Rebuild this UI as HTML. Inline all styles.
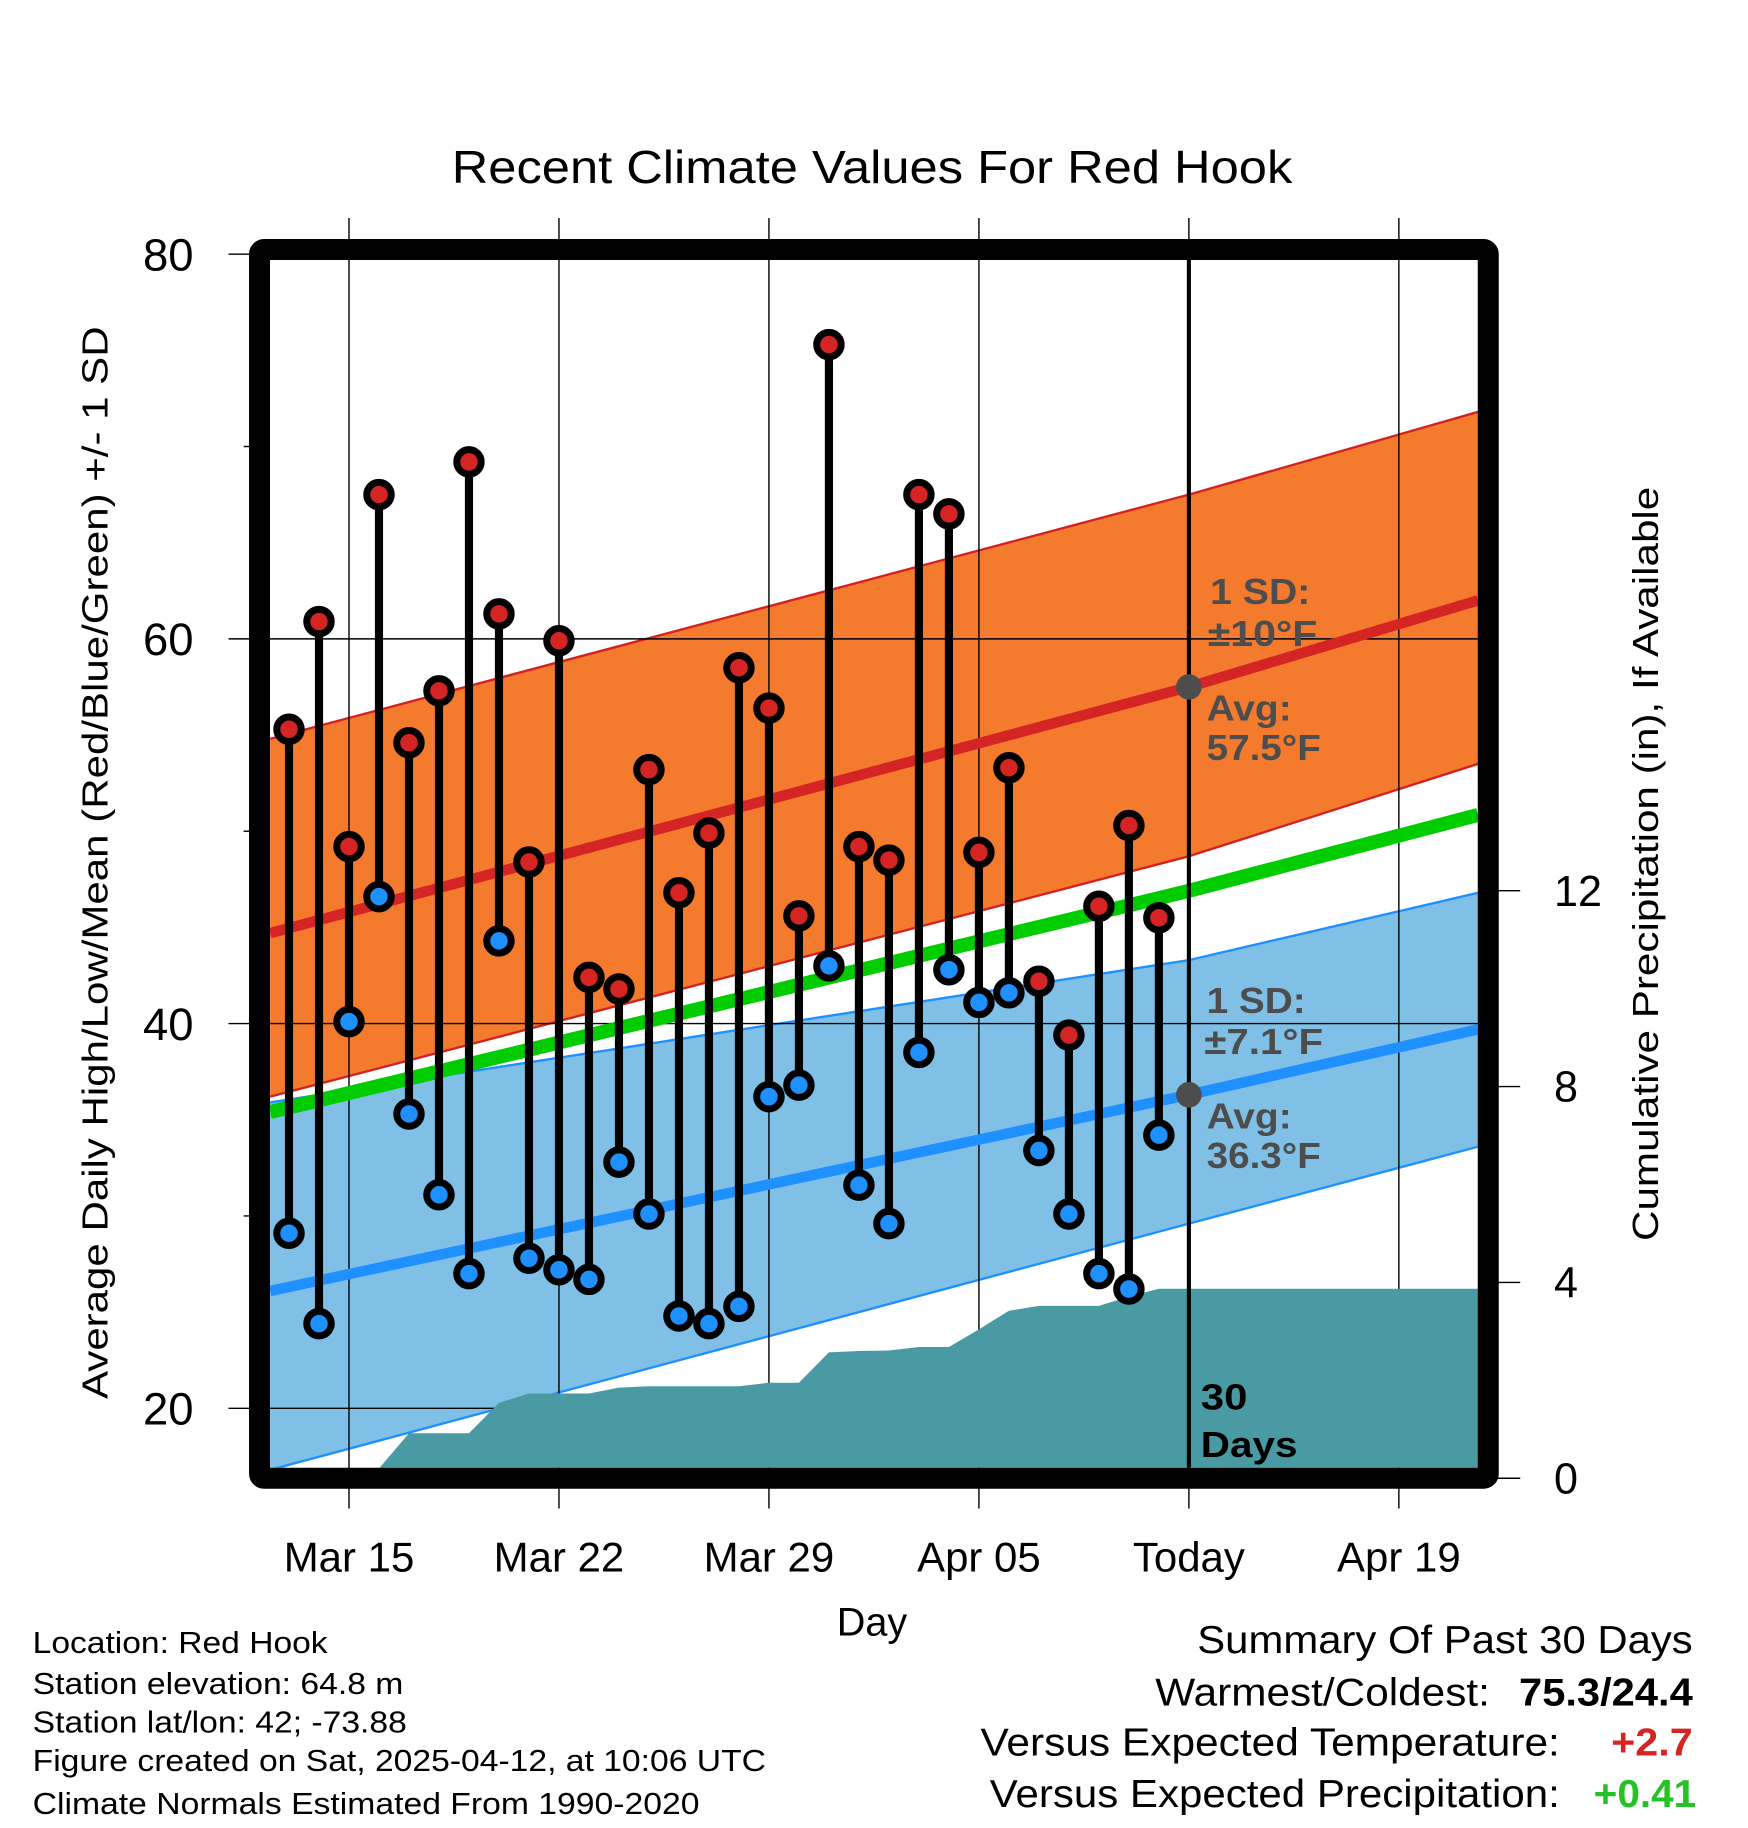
<!DOCTYPE html>
<html><head><meta charset="utf-8"><style>
html,body{margin:0;padding:0;background:#fff;}
svg{display:block;}
text{font-family:"Liberation Sans",Arial,sans-serif;}
</style></head><body>
<svg id="chart" width="1748" height="1828" viewBox="0 0 1499.4 1568" xmlns="http://www.w3.org/2000/svg">
<defs><clipPath id="plotclip"><rect x="231.6" y="223" width="1036.2" height="1036"/></clipPath></defs>
<rect width="1499.4" height="1568" fill="#fff"/>
<text x="748" y="157" text-anchor="middle" font-size="40" textLength="721" lengthAdjust="spacingAndGlyphs">Recent Climate Values For Red Hook</text>
<g id="bands" clip-path="url(#plotclip)"></g>
<g id="grid"></g>
<g id="precip" clip-path="url(#plotclip)"></g>
<g id="normals" clip-path="url(#plotclip)"></g>
<g id="obs" clip-path="url(#plotclip)"></g>
<rect x="222.6" y="214" width="1054" height="1054" fill="none" stroke="#000" stroke-width="18" rx="4"/>
<g id="axes"></g>
<g id="annot" font-weight="bold" fill="#4d4d4d" font-size="31">
<text x="1038" y="518" textLength="86" lengthAdjust="spacingAndGlyphs">1 SD:</text>
<text x="1036" y="554" textLength="94" lengthAdjust="spacingAndGlyphs">±10°F</text>
<text x="1035" y="618" textLength="73" lengthAdjust="spacingAndGlyphs">Avg:</text>
<text x="1035" y="652" textLength="98" lengthAdjust="spacingAndGlyphs">57.5°F</text>
<text x="1035" y="869" textLength="85" lengthAdjust="spacingAndGlyphs">1 SD:</text>
<text x="1033" y="904" textLength="102" lengthAdjust="spacingAndGlyphs">±7.1°F</text>
<text x="1035" y="968" textLength="73" lengthAdjust="spacingAndGlyphs">Avg:</text>
<text x="1035" y="1002" textLength="98" lengthAdjust="spacingAndGlyphs">36.3°F</text>
</g>
<g font-weight="bold" fill="#000" font-size="31">
<text x="1030" y="1209" textLength="40" lengthAdjust="spacingAndGlyphs">30</text>
<text x="1030" y="1250" textLength="83" lengthAdjust="spacingAndGlyphs">Days</text>
</g>
<text x="748" y="1403" text-anchor="middle" font-size="34">Day</text>
<text transform="translate(92,740) rotate(-90)" text-anchor="middle" font-size="31" textLength="920" lengthAdjust="spacingAndGlyphs">Average Daily High/Low/Mean (Red/Blue/Green) +/- 1 SD</text>
<text transform="translate(1422,741) rotate(-90)" text-anchor="middle" font-size="31" textLength="647" lengthAdjust="spacingAndGlyphs">Cumulative Precipitation (in), If Available</text>
<g font-size="26" fill="#000">
<text x="28" y="1418" textLength="253" lengthAdjust="spacingAndGlyphs">Location: Red Hook</text>
<text x="28" y="1453" textLength="318" lengthAdjust="spacingAndGlyphs">Station elevation: 64.8 m</text>
<text x="28" y="1486" textLength="321" lengthAdjust="spacingAndGlyphs">Station lat/lon: 42; -73.88</text>
<text x="28" y="1519" textLength="629" lengthAdjust="spacingAndGlyphs">Figure created on Sat, 2025-04-12, at 10:06 UTC</text>
<text x="28" y="1556" textLength="572" lengthAdjust="spacingAndGlyphs">Climate Normals Estimated From 1990-2020</text>
</g>
<g font-size="33" fill="#000">
<text x="1027" y="1418" textLength="425" lengthAdjust="spacingAndGlyphs">Summary Of Past 30 Days</text>
<text x="991" y="1463" textLength="287" lengthAdjust="spacingAndGlyphs">Warmest/Coldest:</text>
<text x="1303" y="1463" font-weight="bold" textLength="149" lengthAdjust="spacingAndGlyphs">75.3/24.4</text>
<text x="841" y="1506" textLength="497" lengthAdjust="spacingAndGlyphs">Versus Expected Temperature:</text>
<text x="1382" y="1506" font-weight="bold" fill="#d42424" textLength="70" lengthAdjust="spacingAndGlyphs">+2.7</text>
<text x="849" y="1550" textLength="489" lengthAdjust="spacingAndGlyphs">Versus Expected Precipitation:</text>
<text x="1367" y="1550" font-weight="bold" fill="#22c322" textLength="88" lengthAdjust="spacingAndGlyphs">+0.41</text>
</g>
</svg>
<script>
// ---- data ----
const dayLabels = ["Mar 13","Mar 14","Mar 15","Mar 16","Mar 17","Mar 18","Mar 19","Mar 20","Mar 21","Mar 22","Mar 23","Mar 24","Mar 25","Mar 26","Mar 27","Mar 28","Mar 29","Mar 30","Mar 31","Apr 01","Apr 02","Apr 03","Apr 04","Apr 05","Apr 06","Apr 07","Apr 08","Apr 09","Apr 10","Apr 11"];
const highs = [55.3,60.9,49.2,67.5,54.6,57.3,69.2,61.3,48.4,59.9,42.4,41.8,53.2,46.8,49.9,58.5,56.4,45.6,75.3,49.2,48.5,67.5,66.5,48.9,53.3,42.2,39.4,46.1,50.3,45.5];
const lows = [29.1,24.4,40.1,46.6,35.3,31.1,27.0,44.3,27.8,27.2,26.7,32.8,30.1,24.8,24.4,25.3,36.2,36.8,43.0,31.6,29.6,38.5,42.8,41.1,41.6,33.4,30.1,27.0,26.2,34.2];
const cumPrecip = [0,0,0,0.2,0.92,0.92,0.92,1.54,1.73,1.73,1.73,1.85,1.88,1.88,1.88,1.88,1.95,1.95,2.57,2.6,2.61,2.68,2.68,3.04,3.42,3.52,3.52,3.52,3.71,3.87];
const normDays = [-0.63, 30, 39.64];
const normHigh = [44.7, 57.5, 62.0];
const normLow = [26.1, 36.3, 39.7];
const highBandUpper = [54.8, 67.5, 71.8];
const highBandLower = [36.2, 48.7, 53.5];
const lowBandUpper = [35.9, 43.3, 46.8];
const lowBandLower = [16.8, 29.6, 33.6];
const xTickDays = [2, 9, 16, 23, 30, 37];
const xTickLabels = ["Mar 15","Mar 22","Mar 29","Apr 05","Today","Apr 19"];
const yTicks = [20, 40, 60, 80];
const yMinorTicks = [30, 50, 70];
const y2Ticks = [0, 4, 8, 12];
const todayDay = 30;

// ---- scales ----
const xS = d => 247.9 + d * 25.73;
const yS = t => 1208 - (t - 20) * 16.5;
const pS = p => 1268 - p * 42;
const NS = "http://www.w3.org/2000/svg";
function mk(tag, attrs, parent){ const e=document.createElementNS(NS,tag); for(const k in attrs) e.setAttribute(k,attrs[k]); parent.appendChild(e); return e; }
const gBands=document.getElementById('bands'), gGrid=document.getElementById('grid'), gPrecip=document.getElementById('precip'), gNorm=document.getElementById('normals'), gObs=document.getElementById('obs'), gAxes=document.getElementById('axes');

function band(up, lo, fill, edge, name){
  let pts = normDays.map((d,i)=>xS(d)+','+yS(up[i]));
  pts = pts.concat(normDays.slice().reverse().map((d,j)=>{const i=normDays.length-1-j; return xS(d)+','+yS(lo[i]);}));
  const p = mk('polygon',{points:pts.join(' '),fill:fill},gBands);
  
  
  [up,lo].forEach(arr=>{
    const l = mk('polyline',{points:normDays.map((d,i)=>xS(d)+','+yS(arr[i])).join(' '),fill:'none',stroke:edge,'stroke-width':2},gBands);
    
    
  });
}
band(highBandUpper, highBandLower, '#f47a2e', '#d42020', 'high-sd-band');
band(lowBandUpper, lowBandLower, '#80c0e6', '#1e90ff', 'low-sd-band');

// grid
xTickDays.forEach((d,i)=>{
  const l = mk('line',{x1:xS(d),x2:xS(d),y1:187,y2:1294,stroke:'#000','stroke-width':1.2},gGrid);
  
  
  const t = mk('text',{x:xS(d),y:1348,'text-anchor':'middle','font-size':36},gAxes);
  t.textContent = xTickLabels[i];
  
  
});
yTicks.forEach(v=>{
  const l = mk('line',{x1:196,x2:1268,y1:yS(v),y2:yS(v),stroke:'#000','stroke-width':1.2},gGrid);
  
  
  const t = mk('text',{x:166,y:yS(v)+14,'text-anchor':'end','font-size':39},gAxes);
  t.textContent = v;
  
  
});
yMinorTicks.forEach(v=>{
  const l = mk('line',{x1:209,x2:222,y1:yS(v),y2:yS(v),stroke:'#000','stroke-width':1.2},gAxes);
  
  
});
y2Ticks.forEach(v=>{
  const l = mk('line',{x1:1277,x2:1304,y1:pS(v),y2:pS(v),stroke:'#000','stroke-width':1.2},gAxes);
  
  
  const t = mk('text',{x:1333,y:pS(v)+13,'text-anchor':'start','font-size':37},gAxes);
  t.textContent = v;
  
  
});

// precip area
let pp = [xS(-0.63)+','+pS(0)];
cumPrecip.forEach((v,d)=>pp.push(xS(d)+','+pS(v)));
pp.push(xS(39.64)+','+pS(cumPrecip[cumPrecip.length-1]));
pp.push(xS(39.64)+','+pS(-0.3));
pp.push(xS(-0.63)+','+pS(-0.3));
const area = mk('polygon',{points:pp.join(' '),fill:'#4a9aa3'},gPrecip);



// normal lines
function nline(arr, color, w, name){
  const l = mk('polyline',{points:normDays.map((d,i)=>xS(d)+','+yS(arr[i])).join(' '),fill:'none',stroke:color,'stroke-width':w},gNorm);
  
  
}
nline(normHigh,'#d42424',9,'normal-high-line');
nline(normLow,'#1e90ff',9,'normal-low-line');
nline(normHigh.map((h,i)=>(h+normLow[i])/2),'#00cc00',12,'normal-mean-line');

// today line
const tl = mk('line',{x1:xS(todayDay),x2:xS(todayDay),y1:223,y2:1259,stroke:'#000','stroke-width':3.5},gNorm);


const dh = mk('circle',{cx:xS(todayDay),cy:yS(normHigh[1]),r:11,fill:'#4d4d4d'},gNorm);


const dl = mk('circle',{cx:xS(todayDay),cy:yS(normLow[1]),r:11,fill:'#4d4d4d'},gNorm);



// observations
highs.forEach((h,d)=>{
  const x = xS(d);
  const s = mk('line',{x1:x,x2:x,y1:yS(h),y2:yS(lows[d]),stroke:'#000','stroke-width':7},gObs);
  
  
  const ch = mk('circle',{cx:x,cy:yS(h),r:10.5,fill:'#d42424',stroke:'#000','stroke-width':6},gObs);
  
  
  const cl = mk('circle',{cx:x,cy:yS(lows[d]),r:10.5,fill:'#1e90ff',stroke:'#000','stroke-width':6},gObs);
  
  
});
</script>
</body></html>
